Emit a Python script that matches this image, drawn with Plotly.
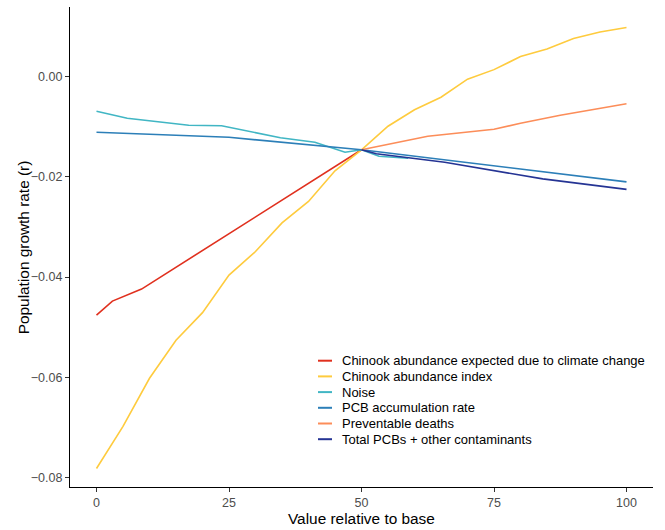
import plotly.graph_objects as go

# ---- data ----
climate_x = [0, 3, 8.5, 25, 50]
climate_y = [-0.0476, -0.0448, -0.0424, -0.0313, -0.0146]

index_x = [0, 5, 10, 15, 20, 25, 30, 35, 40, 45, 50, 55, 60, 65, 70, 75, 80, 85, 90, 95, 100]
index_y = [-0.0782, -0.0698, -0.0602, -0.0526, -0.0471, -0.0396, -0.0349, -0.0292,
           -0.0249, -0.0188, -0.0146, -0.0099, -0.0066, -0.0041, -0.0005, 0.0014,
           0.0040, 0.0055, 0.0076, 0.0089, 0.0098]

noise_x = [0, 5.8, 17.4, 23.6, 34.7, 41.2, 46.9, 50, 53.3, 58.8]
noise_y = [-0.0069, -0.0083, -0.0097, -0.0098, -0.0122, -0.0131, -0.0151, -0.0146, -0.0159, -0.0163]

pcbacc_x = [0, 25, 50, 75, 100]
pcbacc_y = [-0.0111, -0.0121, -0.0146, -0.0178, -0.0210]

prevent_x = [50, 62.5, 75, 80, 87.5, 100]
prevent_y = [-0.0146, -0.0119, -0.0105, -0.0093, -0.0077, -0.0054]

total_x = [50, 52.8, 65.7, 80, 84.2, 100]
total_y = [-0.0146, -0.0154, -0.0171, -0.0196, -0.0204, -0.0225]

series_names = ["Chinook abundance expected due to climate change", "Chinook abundance index",
                "Noise", "PCB accumulation rate", "Preventable deaths",
                "Total PCBs + other contaminants"]
series_x = [climate_x, index_x, noise_x, pcbacc_x, prevent_x, total_x]
series_y = [climate_y, index_y, noise_y, pcbacc_y, prevent_y, total_y]
series_colors = ["#E0301E", "#FECB3E", "#41B6C4", "#2C7FB8", "#FC8D59", "#253494"]

y_ticks = [0.00, -0.02, -0.04, -0.06, -0.08]
x_ticks = [0, 25, 50, 75, 100]
x_title = "Value relative to base"
y_title = "Population growth rate (r)"

fig = go.Figure()
for name, xs, ys, col in zip(series_names, series_x, series_y, series_colors):
    fig.add_trace(go.Scatter(x=xs, y=ys, mode="lines", name=name, showlegend=False,
                             line=dict(color=col, width=1.6)))

# ---- geometry helpers (pixel -> paper) ----
W, H = 665, 530
ml, mr, mt, mb = 70, 12, 7, 43
pw, ph = W - ml - mr, H - mt - mb
def px_x(p):
    return (p - ml) / pw
def px_y(p):
    return (H - mb - p) / ph

# ---- compact ggplot-style legend inside the panel ----
row0, row_gap = 360.7, 15.7
for i, (name, col) in enumerate(zip(series_names, series_colors)):
    yy = px_y(row0 + i * row_gap)
    fig.add_shape(type="line", xref="paper", yref="paper",
                  x0=px_x(318), x1=px_x(332), y0=yy, y1=yy,
                  line=dict(color=col, width=2))
    fig.add_annotation(xref="paper", yref="paper", x=px_x(340), y=yy,
                       xanchor="left", yanchor="middle", text=name, showarrow=False,
                       font=dict(size=13, color="black"))

# ---- axis titles ----
fig.add_annotation(xref="paper", yref="paper", x=0.5, y=px_y(518),
                   xanchor="center", yanchor="middle", text=x_title, showarrow=False,
                   font=dict(size=15.4, color="black"))
fig.add_annotation(xref="paper", yref="paper", x=px_x(23.3), y=0.5,
                   xanchor="center", yanchor="middle", text=y_title, showarrow=False,
                   textangle=-90, font=dict(size=15.4, color="black"))

font_family = "Liberation Sans, Arial, sans-serif"
fig.update_layout(
    width=W, height=H,
    margin=dict(l=ml, r=mr, t=mt, b=mb, autoexpand=False),
    paper_bgcolor="white", plot_bgcolor="white",
    font=dict(family=font_family, color="black"),
    showlegend=False,
    xaxis=dict(range=[-5, 105], tickvals=x_ticks, ticks="outside", ticklen=4,
               tickcolor="#333333", showline=True, linecolor="black", linewidth=1.2,
               showgrid=False, zeroline=False,
               tickfont=dict(size=12.5, color="#4D4D4D")),
    yaxis=dict(range=[-0.0819, 0.0139], tickvals=y_ticks, tickformat=".2f",
               ticks="outside", ticklen=4, tickcolor="#333333",
               showline=True, linecolor="black", linewidth=1.2,
               showgrid=False, zeroline=False,
               tickfont=dict(size=12.5, color="#4D4D4D")),
)

fig.write_html("out.html")
